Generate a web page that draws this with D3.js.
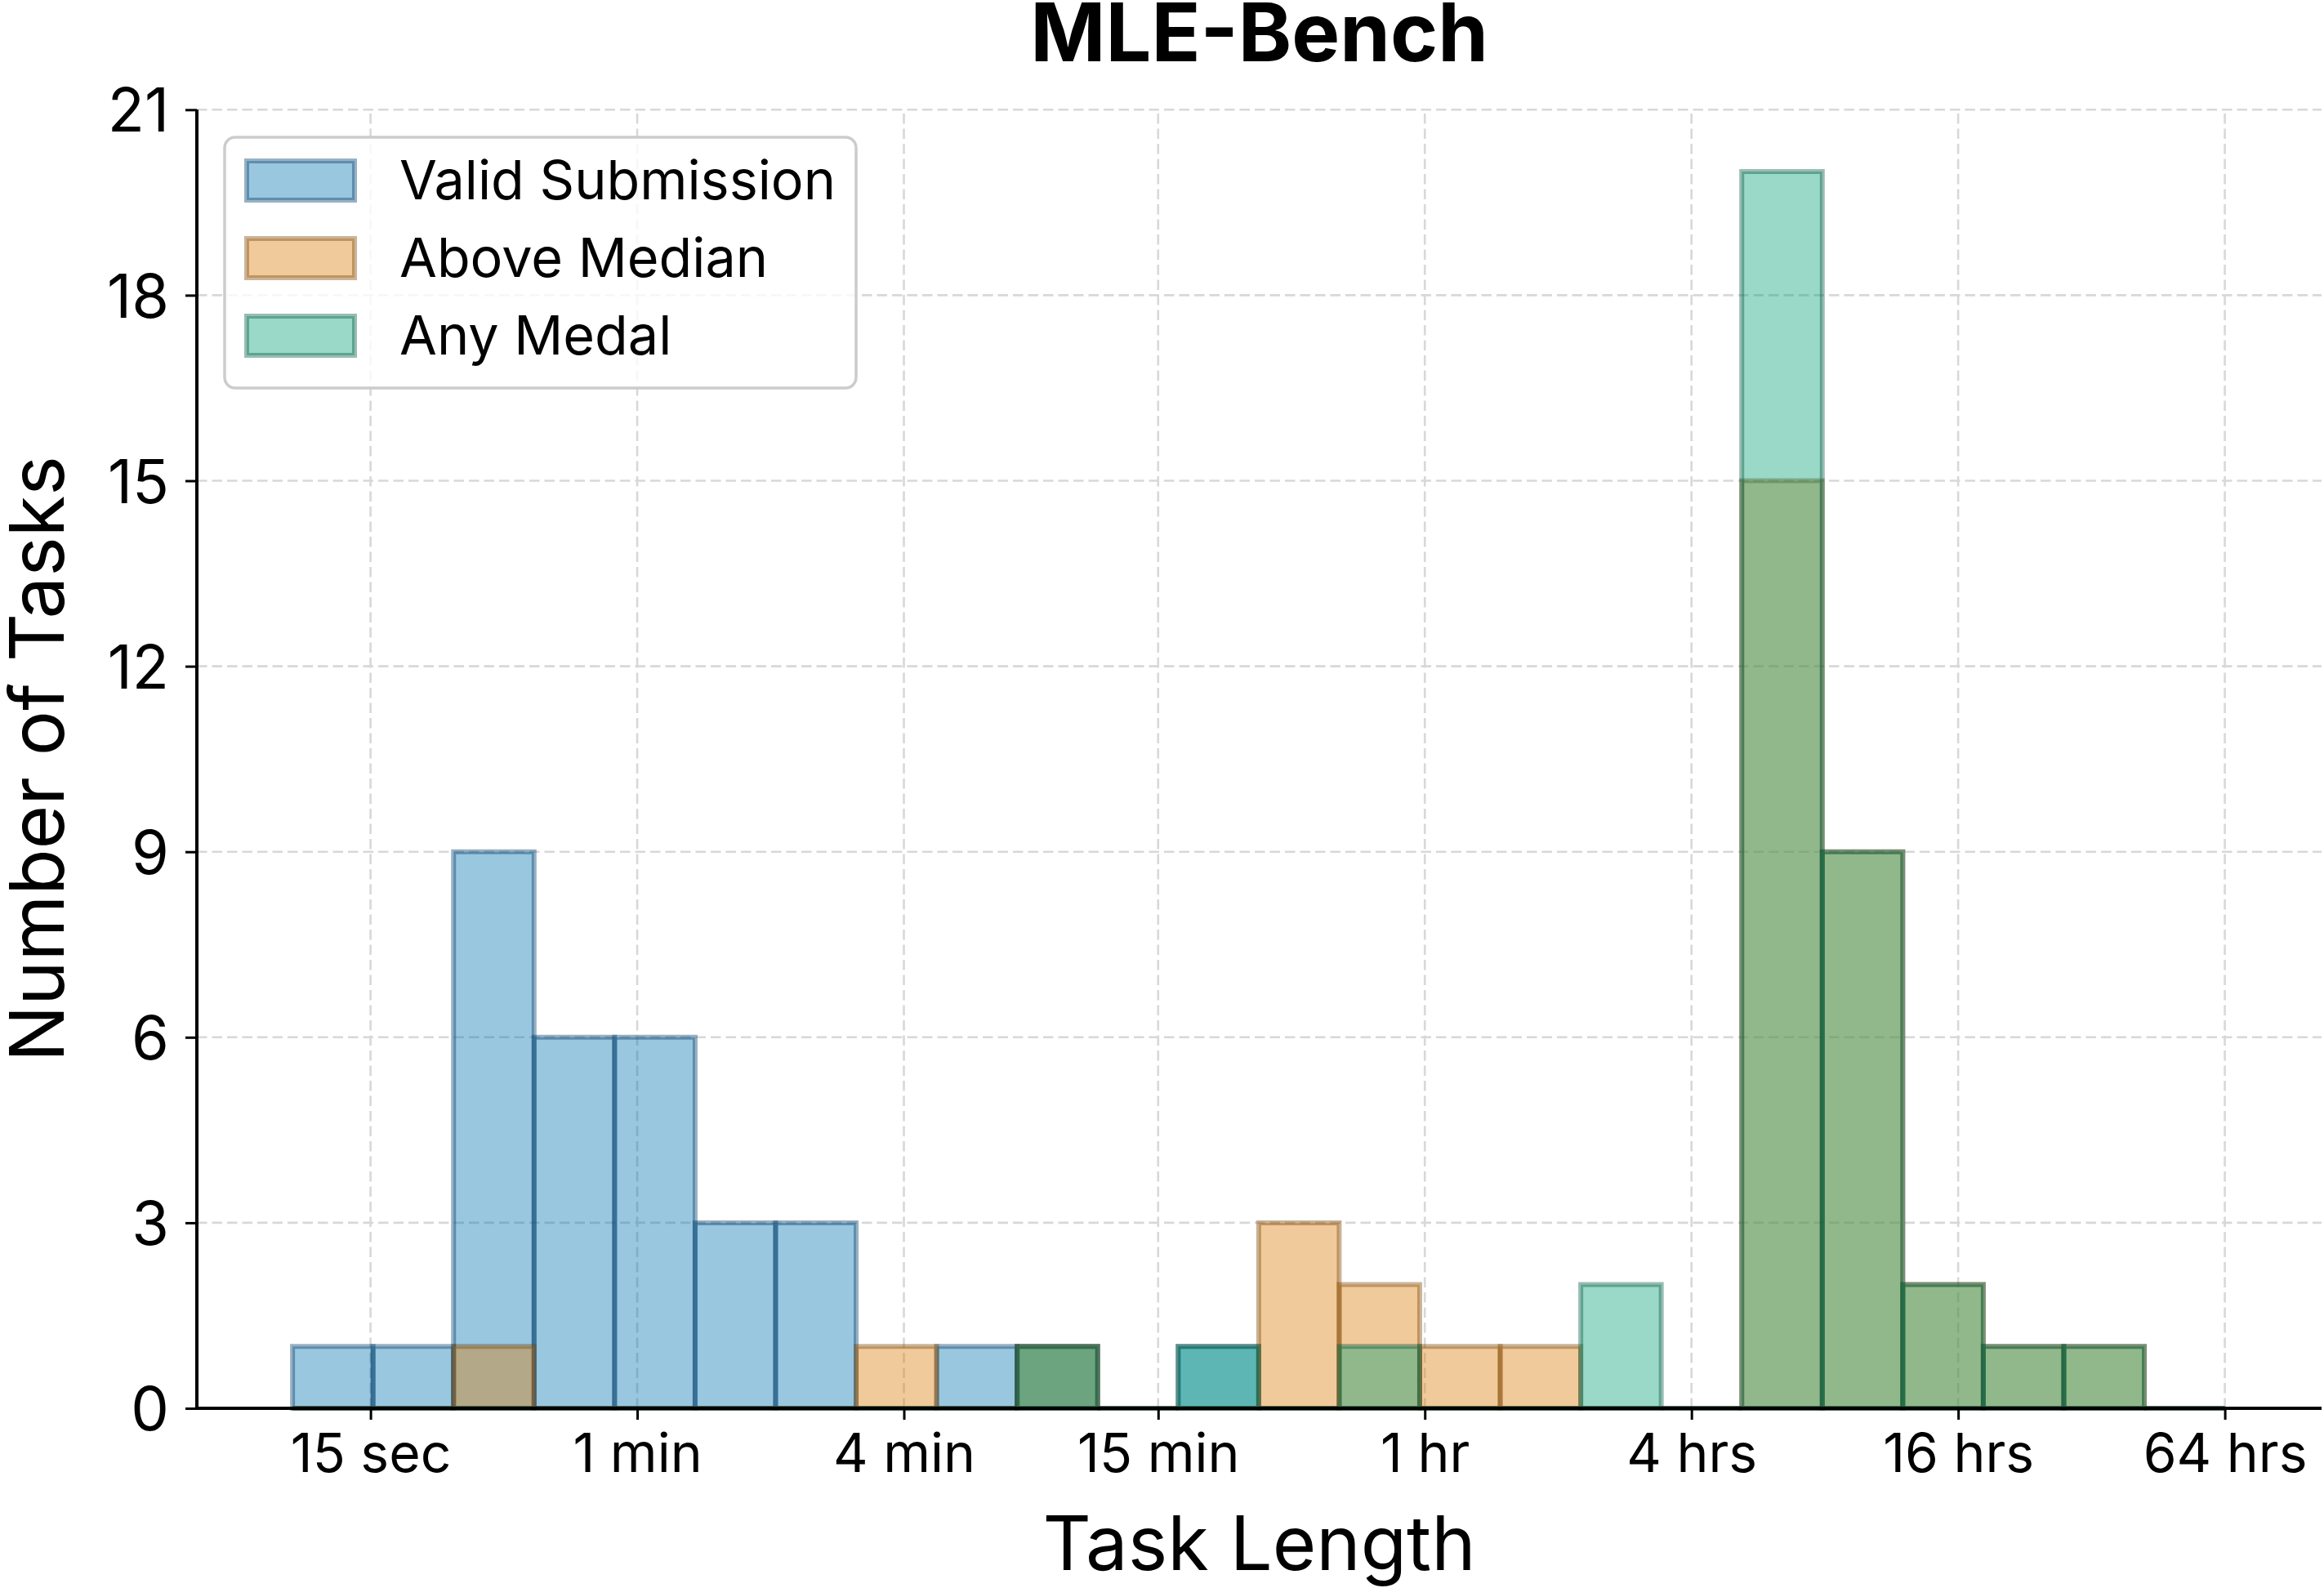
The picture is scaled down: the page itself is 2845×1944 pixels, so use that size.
<!DOCTYPE html>
<html>
<head>
<meta charset="utf-8">
<script src="https://cdn.jsdelivr.net/npm/d3@7"></script>
<style>
  html, body { margin: 0; padding: 0; background: #ffffff; }
  svg { display: block; }
  text { font-family: Inter, "DejaVu Sans", sans-serif; fill: #000; }
</style>
</head>
<body>
<svg id="chart" width="2845" height="1944"></svg>
<script>
// ---- Data ----
const seriesNames = ["Valid Submission", "Above Median", "Any Medal"];
// histogram bins: 24 log-spaced bins from 10 s to 64 hrs
const binMinSeconds = 10;
const binMaxSeconds = 230400;
const binCount = 24;
const validSubmission = [1,1,9,6,6,3,3,0,1,1,0,1,0,0,0,0,0,0,0,0,0,0,0,0];
const aboveMedian     = [0,0,1,0,0,0,0,1,0,1,0,0,3,2,1,1,0,0,15,9,2,1,1,0];
const anyMedal        = [0,0,0,0,0,0,0,0,0,1,0,1,0,1,0,0,2,0,20,9,2,1,1,0];
const xTickValues = [15, 60, 240, 900, 3600, 14400, 57600, 230400];
const xTickLabels = ["15 sec", "1 min", "4 min", "15 min", "1 hr", "4 hrs", "16 hrs", "64 hrs"];
const yTickValues = [0, 3, 6, 9, 12, 15, 18, 21];

// ---- Styles ----
const fills = ["#0072B2", "#D97B04", "#029E73"];
const edges = ["#003a66", "#7a4402", "#01573f"];

const svg = d3.select("#chart");
const x = d3.scaleLog().domain([15, 230400]).range([453.6, 2723.6]);
const y = d3.scaleLinear().domain([0, 21]).range([1724, 134.3]);
const xLeft = 241, xRight = 2842;

const binEdges = d3.range(binCount + 1).map(i =>
  binMinSeconds * Math.pow(binMaxSeconds / binMinSeconds, i / binCount));

// grid
const grid = svg.append("g");
grid.selectAll("line.gy").data(yTickValues.filter(v => v > 0)).join("line")
  .attr("x1", xLeft).attr("x2", xRight)
  .attr("y1", d => y(d)).attr("y2", d => y(d))
  .attr("stroke", "#d8d8d8").attr("stroke-width", 2.6).attr("stroke-dasharray", "12.5,6");
grid.selectAll("line.gx").data(xTickValues).join("line")
  .attr("x1", d => x(d)).attr("x2", d => x(d))
  .attr("y1", y(0)).attr("y2", y(21))
  .attr("stroke", "#d8d8d8").attr("stroke-width", 2.6).attr("stroke-dasharray", "12.5,6");

// bars
const allSeries = [validSubmission, aboveMedian, anyMedal];
allSeries.forEach((vals, si) => {
  const g = svg.append("g");
  g.selectAll("path").data(vals).join("path")
    .attr("d", (v, i) => {
      const x0 = x(binEdges[i]), x1 = x(binEdges[i + 1]);
      const y0 = y(0), y1 = y(v);
      return `M${x0},${y0}V${y1}H${x1}V${y0}Z`;
    })
    .attr("fill", fills[si]).attr("fill-opacity", 0.4)
    .attr("stroke", edges[si]).attr("stroke-opacity", 0.4)
    .attr("stroke-width", 6).attr("stroke-linejoin", "miter");
});

// axes
const xAxis = svg.append("g").attr("transform", `translate(0,${y(0)})`)
  .call(d3.axisBottom(x).tickValues(xTickValues).tickFormat((d, i) => xTickLabels[i])
    .tickSize(14).tickPadding(14));
xAxis.select(".domain").remove();
xAxis.selectAll(".tick line").attr("stroke", "#000").attr("stroke-width", 3);
xAxis.selectAll(".tick text").attr("font-size", 66).attr("font-family", "Inter")
  .attr("y", null).attr("dy", null).attr("transform", "translate(0,78)");

const yAxis = svg.append("g").attr("transform", `translate(${xLeft},0)`)
  .call(d3.axisLeft(y).tickValues(yTickValues).tickSize(14).tickPadding(20));
yAxis.select(".domain").remove();
yAxis.selectAll(".tick line").attr("stroke", "#000").attr("stroke-width", 3);
yAxis.selectAll(".tick text").attr("font-size", 74).attr("font-family", "Inter")
  .attr("dy", "0.36em").attr("x", -34);

// spines
svg.append("line").attr("x1", xLeft).attr("x2", xLeft).attr("y1", y(21)).attr("y2", y(0) + 2)
  .attr("stroke", "#000").attr("stroke-width", 4);
svg.append("line").attr("x1", xLeft - 2).attr("x2", xRight).attr("y1", y(0)).attr("y2", y(0))
  .attr("stroke", "#000").attr("stroke-width", 4);

// title & labels
svg.append("text").attr("x", (xLeft + xRight) / 2).attr("y", 75)
  .attr("text-anchor", "middle").attr("font-size", 99).attr("font-weight", 700)
  .text("MLE-Bench");
svg.append("text").attr("x", (xLeft + xRight) / 2).attr("y", 1922)
  .attr("text-anchor", "middle").attr("font-size", 92).text("Task Length");
svg.append("text").attr("transform", `translate(78,${(y(0) + y(21)) / 2}) rotate(-90)`)
  .attr("text-anchor", "middle").attr("font-size", 92).text("Number of Tasks");

// legend
const lg = svg.append("g");
lg.append("rect").attr("x", 275).attr("y", 168).attr("width", 773).attr("height", 307)
  .attr("rx", 13).attr("ry", 13)
  .attr("fill", "#fff").attr("fill-opacity", 0.8)
  .attr("stroke", "#cccccc").attr("stroke-width", 3.5);
seriesNames.forEach((name, i) => {
  const cy = 221 + i * 95;
  lg.append("rect").attr("x", 302).attr("y", cy - 24).attr("width", 132).attr("height", 48)
    .attr("fill", fills[i]).attr("fill-opacity", 0.4)
    .attr("stroke", edges[i]).attr("stroke-opacity", 0.4).attr("stroke-width", 6);
  lg.append("text").attr("x", 489).attr("y", cy + 23).attr("font-size", 66.5).text(name);
});
</script>
</body>
</html>
